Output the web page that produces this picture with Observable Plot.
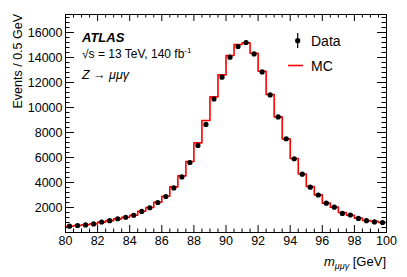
<!DOCTYPE html>
<html><head><meta charset="utf-8">
<script src="https://cdn.jsdelivr.net/npm/d3@7"></script>
<script src="https://cdn.jsdelivr.net/npm/@observablehq/plot@0.6"></script>
<style>body{margin:0;background:#fff} svg{display:block}</style>
</head><body><div id="chart"></div>
<script>
// Bin centres of m_mumugamma [GeV] (0.5 GeV bins)
const binCenters = [80.25,80.75,81.25,81.75,82.25,82.75,83.25,83.75,84.25,84.75,
  85.25,85.75,86.25,86.75,87.25,87.75,88.25,88.75,89.25,89.75,
  90.25,90.75,91.25,91.75,92.25,92.75,93.25,93.75,94.25,94.75,
  95.25,95.75,96.25,96.75,97.25,97.75,98.25,98.75,99.25,99.75];
// Data events per bin
const dataCounts = [510,560,610,690,840,950,1100,1220,1380,1690,
  1980,2400,2880,3570,4450,5600,6960,8650,10680,12430,
  14030,14880,15200,14290,12850,11010,9250,7500,5900,4670,
  3630,3000,2350,2030,1530,1400,1130,950,850,800];
// MC events per bin
const mcCounts = [500,560,620,690,830,950,1090,1220,1380,1700,
  2000,2420,2900,3650,4530,5680,7170,8960,10850,12610,
  14160,15040,15170,14340,12900,11040,9250,7490,5920,4680,
  3680,3010,2350,2030,1600,1380,1150,960,890,800];
const binWidth = 0.5;
const xTickLabels = [80,82,84,86,88,90,92,94,96,98,100];
const yTickLabels = [2000,4000,6000,8000,10000,12000,14000,16000];

const W = 407, H = 277, mL = 65, mR = 21, mT = 14, mB = 45;
const frameW = W - mL - mR, frameH = H - mT - mB;
const xMinor = d3.range(80, 100.001, 0.5).filter(v => !xTickLabels.includes(v));
const yMinor = d3.range(400, 17400, 400).filter(v => !yTickLabels.includes(v));

const data = binCenters.map((x, i) => ({x, y: dataCounts[i]}));
const mcSteps = binCenters.map((x, i) => ({x: x - binWidth / 2, y: mcCounts[i]}));
mcSteps.push({x: binCenters[binCenters.length - 1] + binWidth / 2, y: mcCounts[mcCounts.length - 1]});

const font = "'Liberation Sans', Arial, Helvetica, sans-serif";
const xMaj = 7, xMin = 3.5, yMaj = 9, yMin = 4.5;

const chart = Plot.plot({
  width: W, height: H,
  marginLeft: mL, marginRight: mR, marginTop: mT, marginBottom: mB,
  style: {fontFamily: font, fontSize: "12.5px", color: "black", background: "white"},
  x: {domain: [80, 100]},
  y: {domain: [0, 17440]},
  marks: [
    // inward ticks on all four sides
    Plot.ruleX(xTickLabels, {insetTop: frameH - xMaj, stroke: "black"}),
    Plot.ruleX(xTickLabels, {insetBottom: frameH - xMaj, stroke: "black"}),
    Plot.ruleX(xMinor, {insetTop: frameH - xMin, stroke: "black"}),
    Plot.ruleX(xMinor, {insetBottom: frameH - xMin, stroke: "black"}),
    Plot.ruleY(yTickLabels, {insetRight: frameW - yMaj, stroke: "black"}),
    Plot.ruleY(yTickLabels, {insetLeft: frameW - yMaj, stroke: "black"}),
    Plot.ruleY(yMinor, {insetRight: frameW - yMin, stroke: "black"}),
    Plot.ruleY(yMinor, {insetLeft: frameW - yMin, stroke: "black"}),
    Plot.axisX({ticks: xTickLabels, tickSize: 0, tickPadding: 4, label: null, fontSize: 12.5, tickFormat: d => String(d)}),
    Plot.axisY({ticks: yTickLabels, tickSize: 0, tickPadding: 3, label: null, fontSize: 12.5, tickFormat: d => String(d)}),
    // MC histogram
    Plot.line(mcSteps, {x: "x", y: "y", curve: "step-after", stroke: "#ff0000", strokeWidth: 1.6}),
    // Data with stat errors
    Plot.ruleX(data, {x: "x", y1: d => d.y - Math.sqrt(d.y), y2: d => d.y + Math.sqrt(d.y), stroke: "black", strokeWidth: 1.2}),
    Plot.dot(data, {x: "x", y: "y", r: 2.6, fill: "black", stroke: "none"}),
    Plot.frame({stroke: "black", strokeWidth: 1})
  ]
});
document.getElementById("chart").appendChild(chart);

const svg = d3.select(chart);
const g = svg.append("g").attr("font-family", font).attr("fill", "black").attr("text-anchor", "start");
// y-axis title
g.append("text").attr("transform", `translate(${mL - 43},${mT}) rotate(-90)`)
  .attr("text-anchor", "end").attr("font-size", 12.5).text("Events / 0.5 GeV");
// x-axis title
const xt = g.append("text").attr("x", W - mR).attr("y", H - 11).attr("text-anchor", "end").attr("font-size", 13);
xt.append("tspan").attr("font-style", "italic").text("m");
xt.append("tspan").attr("font-style", "italic").attr("font-size", 9).attr("dy", 3).text("μμγ");
xt.append("tspan").attr("dy", -3).text(" [GeV]");
// ATLAS label
g.append("text").attr("x", mL + 17).attr("y", mT + 28).attr("font-size", 13)
  .attr("font-weight", "bold").attr("font-style", "italic").text("ATLAS");
const en = g.append("text").attr("x", mL + 17).attr("y", mT + 44).attr("font-size", 12);
en.append("tspan").text("√s = 13 TeV, 140 fb");
en.append("tspan").attr("font-size", 8).attr("dy", -5).text("-1");
const zt = g.append("text").attr("x", mL + 17).attr("y", mT + 65).attr("font-size", 12.5).attr("font-style", "italic");
zt.append("tspan").text("Z");
zt.append("tspan").attr("font-style", "normal").text(" → ");
zt.append("tspan").text("μμγ");
// Legend
const lg = g.append("g");
lg.append("line").attr("x1", 297.7).attr("x2", 297.7).attr("y1", 33).attr("y2", 48).attr("stroke", "black").attr("stroke-width", 1.2);
lg.append("circle").attr("cx", 297.7).attr("cy", 40.7).attr("r", 2.6).attr("fill", "black");
lg.append("text").attr("x", 311).attr("y", 46).attr("font-size", 14).text("Data");
lg.append("line").attr("x1", 288).attr("x2", 303).attr("y1", 65.5).attr("y2", 65.5).attr("stroke", "#ff0000").attr("stroke-width", 1.6);
lg.append("text").attr("x", 311).attr("y", 70.5).attr("font-size", 14).text("MC");
</script>
</body></html>
